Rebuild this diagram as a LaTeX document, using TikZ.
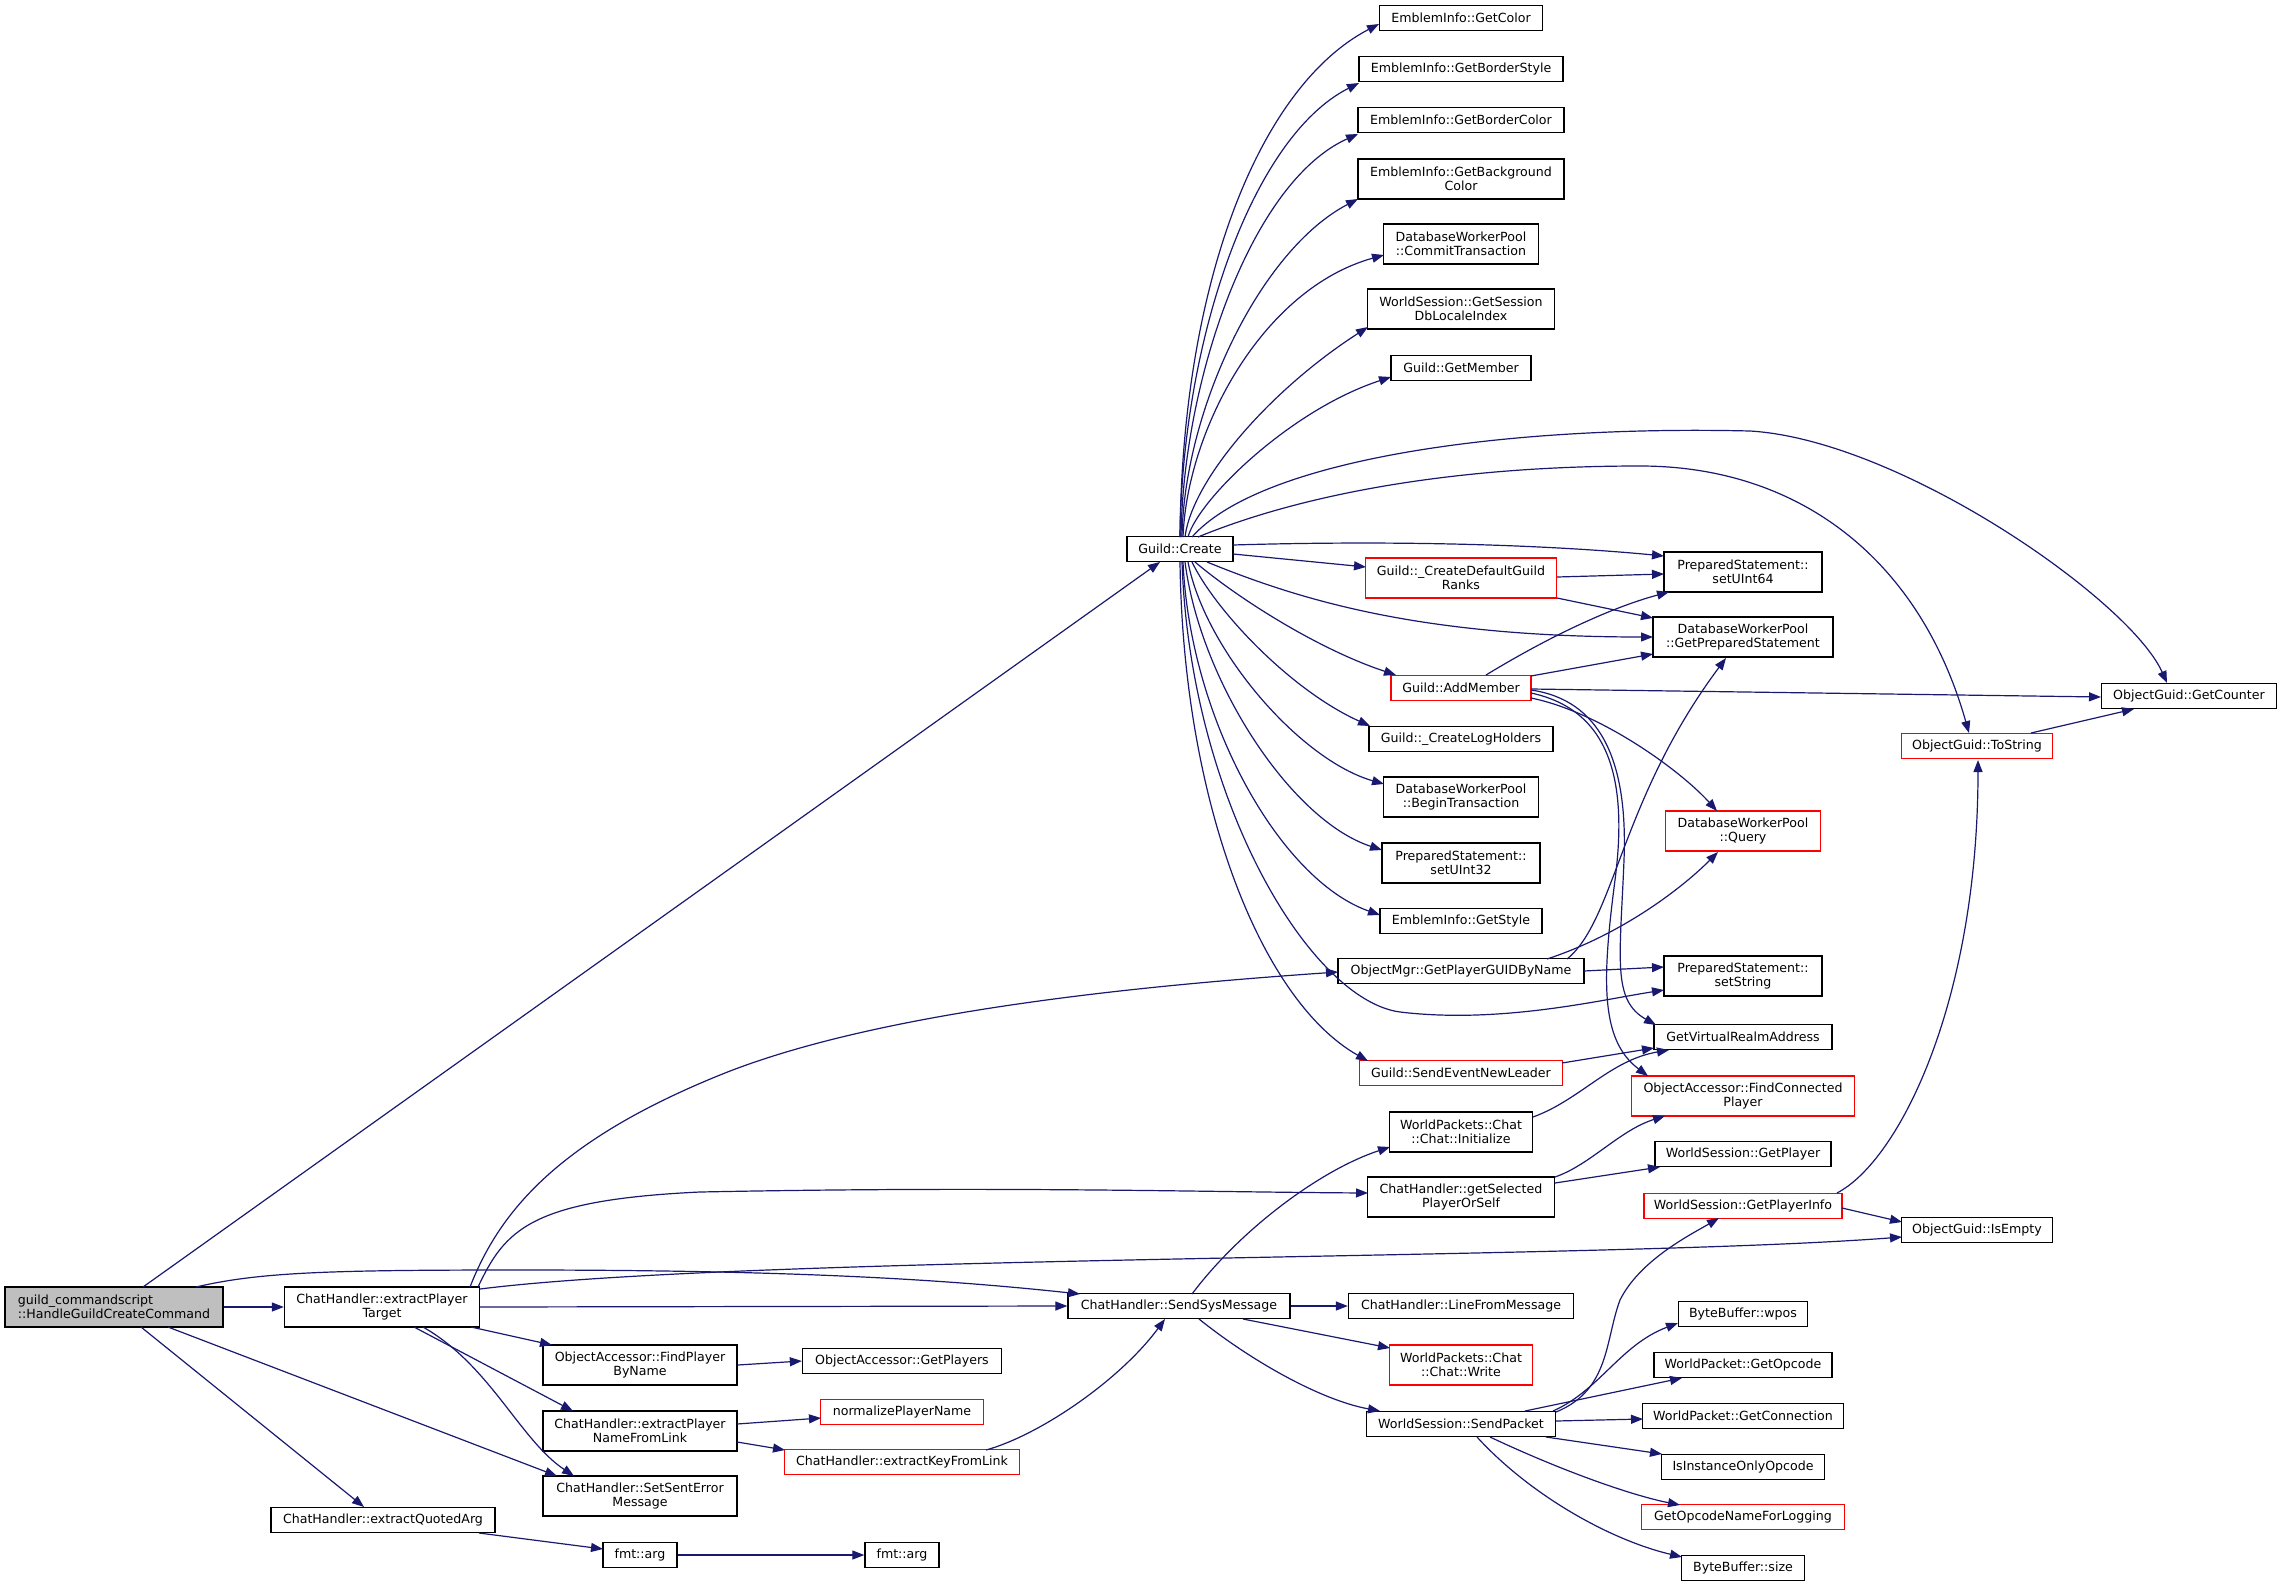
\documentclass[tikz,border=0pt]{standalone}
\usepackage{fontspec}
\setmainfont{DejaVu Sans}
\usetikzlibrary{arrows.meta}
\definecolor{edgeblue}{HTML}{191970}
\definecolor{rootgray}{HTML}{BFBFBF}
\begin{document}
\begin{tikzpicture}[x=1pt,y=-1pt,
  bx/.style={draw=black, line width=1.3pt, inner sep=0pt, align=center, fill=white,
    font=\fontsize{12.6pt}{14.5pt}\selectfont},
  one/.style={bx, minimum height=25pt},
  two/.style={bx, minimum height=40pt},
  wd/.style={minimum width=#1pt},
  hot/.style={draw=red},
  lnk/.style={draw=edgeblue, line width=1.2pt, -{Triangle[length=12pt,width=9pt]}}]
\fill[white] (0,0) rectangle (2281,1587);
\useasboundingbox (0,0) rectangle (2281,1587);
% nodes
\node[two,wd=218,fill=rootgray,align=left] (g0) at (114,1307) {guild\_commandscript\\::HandleGuildCreateCommand};
\node[two,wd=195] (ept) at (382,1307) {ChatHandler::extractPlayer\\Target};
\node[one,wd=224] (eqa) at (383,1520) {ChatHandler::extractQuotedArg};
\node[two,wd=194] (fpbn) at (640,1365) {ObjectAccessor::FindPlayer\\ByName};
\node[two,wd=194] (epnfl) at (640,1431) {ChatHandler::extractPlayer\\NameFromLink};
\node[two,wd=194] (sse) at (640,1496) {ChatHandler::SetSentError\\Message};
\node[one,wd=74] (fa1) at (640,1555) {fmt::arg};
\node[one,wd=199] (gp) at (902,1361) {ObjectAccessor::GetPlayers};
\node[one,wd=163,hot] (npn) at (902,1412) {normalizePlayerName};
\node[one,wd=235,hot] (ekfl) at (902,1462) {ChatHandler::extractKeyFromLink};
\node[one,wd=74] (fa2) at (902,1555) {fmt::arg};
\node[one,wd=106] (gc) at (1180,549) {Guild::Create};
\node[one,wd=222] (ssm) at (1179,1306) {ChatHandler::SendSysMessage};
\node[one,wd=163] (gcol) at (1461,18) {EmblemInfo::GetColor};
\node[one,wd=204] (gbs) at (1461,69) {EmblemInfo::GetBorderStyle};
\node[one,wd=206] (gbc) at (1461,120) {EmblemInfo::GetBorderColor};
\node[two,wd=206] (gbg) at (1461,179) {EmblemInfo::GetBackground\\Color};
\node[two,wd=155] (ct) at (1461,244) {DatabaseWorkerPool\\::CommitTransaction};
\node[two,wd=187] (gsdl) at (1461,309) {WorldSession::GetSession\\DbLocaleIndex};
\node[one,wd=140] (gm) at (1461,368) {Guild::GetMember};
\node[two,wd=191,hot] (cdgr) at (1461,578) {Guild::\_CreateDefaultGuild\\Ranks};
\node[one,wd=140,hot] (am) at (1461,688) {Guild::AddMember};
\node[one,wd=184] (clh) at (1461,739) {Guild::\_CreateLogHolders};
\node[two,wd=155] (bt) at (1461,797) {DatabaseWorkerPool\\::BeginTransaction};
\node[two,wd=158] (su32) at (1461,863) {PreparedStatement::\\setUInt32};
\node[one,wd=162] (gst) at (1461,921) {EmblemInfo::GetStyle};
\node[one,wd=246] (gpg) at (1461,971) {ObjectMgr::GetPlayerGUIDByName};
\node[one,wd=203,hot] (senl) at (1461,1073) {Guild::SendEventNewLeader};
\node[two,wd=143] (init) at (1461,1132) {WorldPackets::Chat\\::Chat::Initialize};
\node[two,wd=187] (gsps) at (1461,1197) {ChatHandler::getSelected\\PlayerOrSelf};
\node[one,wd=225] (lfm) at (1461,1306) {ChatHandler::LineFromMessage};
\node[two,wd=143,hot] (wr) at (1461,1365) {WorldPackets::Chat\\::Chat::Write};
\node[one,wd=189] (sp) at (1461,1424) {WorldSession::SendPacket};
\node[two,wd=158] (su64) at (1743,572) {PreparedStatement::\\setUInt64};
\node[two,wd=180] (gps) at (1743,637) {DatabaseWorkerPool\\::GetPreparedStatement};
\node[two,wd=155,hot] (qry) at (1743,831) {DatabaseWorkerPool\\::Query};
\node[two,wd=158] (sstr) at (1743,976) {PreparedStatement::\\setString};
\node[one,wd=178] (gvra) at (1743,1037) {GetVirtualRealmAddress};
\node[two,wd=223,hot] (fcp) at (1743,1096) {ObjectAccessor::FindConnected\\Player};
\node[one,wd=176] (gpl) at (1743,1154) {WorldSession::GetPlayer};
\node[one,wd=198,hot] (gpi) at (1743,1206) {WorldSession::GetPlayerInfo};
\node[one,wd=129] (wpos) at (1743,1314) {ByteBuffer::wpos};
\node[one,wd=178] (gop) at (1743,1365) {WorldPacket::GetOpcode};
\node[one,wd=201] (gcon) at (1743,1416) {WorldPacket::GetConnection};
\node[one,wd=163] (iio) at (1743,1467) {IsInstanceOnlyOpcode};
\node[one,wd=203,hot] (gonl) at (1743,1517) {GetOpcodeNameForLogging};
\node[one,wd=123] (bsz) at (1743,1568) {ByteBuffer::size};
\node[one,wd=151,hot] (tostr) at (1977,746) {ObjectGuid::ToString};
\node[one,wd=151] (ise) at (1977,1230) {ObjectGuid::IsEmpty};
\node[one,wd=175] (gctr) at (2189,696) {ObjectGuid::GetCounter};
% root edges
\draw[lnk] ([shift={(29,-20)}]g0.center) -- ([shift={(-20,13)}]gc.center);
\draw[lnk] (g0.east) -- (ept.west);
\draw[lnk] ([shift={(82,-20)}]g0.center) .. controls (260,1272) and (330,1270) .. (520,1270) .. controls (800,1270) and (950,1280) .. ([shift={(-99,-12)}]ssm.center);
\draw[lnk] ([shift={(54,20)}]g0.center) -- ([shift={(-83,-20)}]sse.center);
\draw[lnk] ([shift={(27,20)}]g0.center) -- ([shift={(-19,-13)}]eqa.center);
% extractPlayerTarget
\draw[lnk] (ept.east) -- (ssm.west);
\draw[lnk] ([shift={(98,-18)}]ept.center) .. controls (750,1255) and (1600,1260) .. ([shift={(-75,7)}]ise.center);
\draw[lnk] ([shift={(88,-20)}]ept.center) .. controls (500,1210) and (560,1140) .. (720,1075) .. controls (880,1010) and (1150,985) .. ([shift={(-123,1)}]gpg.center);
\draw[lnk] ([shift={(96,-20)}]ept.center) .. controls (505,1230) and (530,1200) .. (700,1192) .. controls (1000,1186) and (1200,1192) .. ([shift={(-93,-4)}]gsps.center);
\draw[lnk] ([shift={(89,20)}]ept.center) -- ([shift={(-88,-20)}]fpbn.center);
\draw[lnk] ([shift={(32,20)}]ept.center) -- ([shift={(-67,-20)}]epnfl.center);
\draw[lnk] ([shift={(41,20)}]ept.center) .. controls (490,1365) and (520,1440) .. ([shift={(-66,-20)}]sse.center);
\draw[lnk] (fpbn.east) -- (gp.west);
\draw[lnk] ([shift={(97,-7)}]epnfl.center) -- ([shift={(-81,6)}]npn.center);
\draw[lnk] ([shift={(97,11)}]epnfl.center) -- ([shift={(-117,-12)}]ekfl.center);
\draw[lnk] ([shift={(84,-12)}]ekfl.center) .. controls (1040,1435) and (1120,1380) .. ([shift={(-14,13)}]ssm.center);
\draw[lnk] ([shift={(96,13)}]eqa.center) -- ([shift={(-37,-6)}]fa1.center);
\draw[lnk] (fa1.east) -- (fa2.west);
% SendSysMessage
\draw[lnk] ([shift={(13,-12)}]ssm.center) .. controls (1240,1230) and (1320,1170) .. ([shift={(-71,15)}]init.center);
\draw[lnk] (ssm.east) -- (lfm.west);
\draw[lnk] ([shift={(64,13)}]ssm.center) -- ([shift={(-71,-17)}]wr.center);
\draw[lnk] ([shift={(20,13)}]ssm.center) .. controls (1250,1360) and (1320,1400) .. ([shift={(-81,-13)}]sp.center);
% Guild::Create
\draw[lnk] ([shift={(0,-12)}]gc.center) .. controls (1182,281) and (1260,86) .. ([shift={(-82,6)}]gcol.center);
\draw[lnk] ([shift={(0,-12)}]gc.center) .. controls (1182,340) and (1252,137) .. ([shift={(-102,14)}]gbs.center);
\draw[lnk] ([shift={(1,-12)}]gc.center) .. controls (1183,380) and (1251,182) .. ([shift={(-103,14)}]gbc.center);
\draw[lnk] ([shift={(2,-12)}]gc.center) .. controls (1184,410) and (1260,250) .. ([shift={(-103,20)}]gbg.center);
\draw[lnk] ([shift={(3,-12)}]gc.center) .. controls (1187,430) and (1262,289) .. ([shift={(-77,11)}]ct.center);
\draw[lnk] ([shift={(5,-12)}]gc.center) .. controls (1192,480) and (1270,390) .. ([shift={(-93,18)}]gsdl.center);
\draw[lnk] ([shift={(8,-12)}]gc.center) .. controls (1198,500) and (1290,410) .. ([shift={(-70,9)}]gm.center);
\draw[lnk] ([shift={(12,-12)}]gc.center) .. controls (1260,460) and (1500,425) .. (1750,431) .. controls (1900,440) and (2130,600) .. ([shift={(-22,-13)}]gctr.center);
\draw[lnk] ([shift={(18,-12)}]gc.center) .. controls (1300,495) and (1450,466) .. (1640,466) .. controls (1800,466) and (1920,560) .. ([shift={(-8,-13)}]tostr.center);
\draw[lnk] ([shift={(53,-4)}]gc.center) .. controls (1400,540) and (1550,545) .. ([shift={(-79,-16)}]su64.center);
\draw[lnk] ([shift={(53,5)}]gc.center) -- ([shift={(-95,-11)}]cdgr.center);
\draw[lnk] ([shift={(27,13)}]gc.center) .. controls (1300,600) and (1420,637) .. ([shift={(-90,0)}]gps.center);
\draw[lnk] ([shift={(15,13)}]gc.center) .. controls (1240,600) and (1320,650) .. ([shift={(-65,-13)}]am.center);
\draw[lnk] ([shift={(12,13)}]gc.center) .. controls (1215,610) and (1290,690) .. ([shift={(-91,-13)}]clh.center);
\draw[lnk] ([shift={(8,13)}]gc.center) .. controls (1205,650) and (1300,760) .. ([shift={(-77,-13)}]bt.center);
\draw[lnk] ([shift={(5,13)}]gc.center) .. controls (1200,680) and (1290,820) .. ([shift={(-79,-13)}]su32.center);
\draw[lnk] ([shift={(3,13)}]gc.center) .. controls (1190,720) and (1280,880) .. ([shift={(-81,-6)}]gst.center);
\draw[lnk] ([shift={(0,13)}]gc.center) .. controls (1183,800) and (1260,1000) .. ([shift={(-93,-12)}]senl.center);
\draw[lnk] ([shift={(2,13)}]gc.center) .. controls (1190,800) and (1310,1000) .. (1400,1012) .. controls (1500,1024) and (1600,1000) .. ([shift={(-79,14)}]sstr.center);
% AddMember
\draw[lnk] ([shift={(25,-13)}]am.center) .. controls (1560,630) and (1620,605) .. ([shift={(-74,20)}]su64.center);
\draw[lnk] ([shift={(70,-12)}]am.center) -- ([shift={(-90,17)}]gps.center);
\draw[lnk] ([shift={(70,1)}]am.center) -- ([shift={(-88,1)}]gctr.center);
\draw[lnk] ([shift={(70,10)}]am.center) .. controls (1600,712) and (1680,770) .. ([shift={(-26,-20)}]qry.center);
\draw[lnk] ([shift={(70,2)}]am.center) .. controls (1600,700) and (1628,760) .. (1624,860) .. controls (1620,960) and (1612,1000) .. ([shift={(-87,-12)}]gvra.center);
\draw[lnk] ([shift={(70,5)}]am.center) .. controls (1610,710) and (1628,780) .. (1615,880) .. controls (1602,980) and (1600,1040) .. ([shift={(-95,-20)}]fcp.center);
% CreateDefaultGuildRanks
\draw[lnk] ([shift={(96,-1)}]cdgr.center) -- ([shift={(-79,2)}]su64.center);
\draw[lnk] ([shift={(96,20)}]cdgr.center) -- ([shift={(-90,-19)}]gps.center);
% GetPlayerGUIDByName
\draw[lnk] ([shift={(106,-12)}]gpg.center) .. controls (1615,920) and (1620,800) .. ([shift={(-17,21)}]gps.center);
\draw[lnk] ([shift={(86,-12)}]gpg.center) .. controls (1620,935) and (1680,890) .. ([shift={(-25,21)}]qry.center);
\draw[lnk] ([shift={(123,0)}]gpg.center) -- ([shift={(-79,-9)}]sstr.center);
% others
\draw[lnk] ([shift={(101,-10)}]senl.center) -- ([shift={(-89,11)}]gvra.center);
\draw[lnk] ([shift={(72,-15)}]init.center) .. controls (1580,1100) and (1610,1060) .. ([shift={(-74,13)}]gvra.center);
\draw[lnk] ([shift={(94,-20)}]gsps.center) .. controls (1590,1165) and (1620,1130) .. ([shift={(-78,20)}]fcp.center);
\draw[lnk] ([shift={(94,-14)}]gsps.center) -- ([shift={(-83,13)}]gpl.center);
% SendPacket
\draw[lnk] ([shift={(95,-12)}]sp.center) .. controls (1610,1390) and (1605,1340) .. (1620,1300) .. controls (1640,1260) and (1690,1235) .. ([shift={(-24,12)}]gpi.center);
\draw[lnk] ([shift={(92,-13)}]sp.center) .. controls (1600,1390) and (1620,1345) .. ([shift={(-65,9)}]wpos.center);
\draw[lnk] ([shift={(64,-13)}]sp.center) -- ([shift={(-61,13)}]gop.center);
\draw[lnk] ([shift={(95,-3)}]sp.center) -- ([shift={(-100,3)}]gcon.center);
\draw[lnk] ([shift={(85,13)}]sp.center) -- ([shift={(-81,-13)}]iio.center);
\draw[lnk] ([shift={(29,13)}]sp.center) .. controls (1560,1470) and (1630,1495) .. ([shift={(-63,-12)}]gonl.center);
\draw[lnk] ([shift={(16,13)}]sp.center) .. controls (1530,1495) and (1610,1540) .. ([shift={(-61,-11)}]bsz.center);
% GetPlayerInfo, ToString
\draw[lnk] ([shift={(99,2)}]gpi.center) -- ([shift={(-75,-8)}]ise.center);
\draw[lnk] ([shift={(94,-13)}]gpi.center) .. controls (1900,1160) and (1978,1000) .. ([shift={(1,14)}]tostr.center);
\draw[lnk] ([shift={(54,-13)}]tostr.center) -- ([shift={(-55,13)}]gctr.center);
\end{tikzpicture}
\end{document}
